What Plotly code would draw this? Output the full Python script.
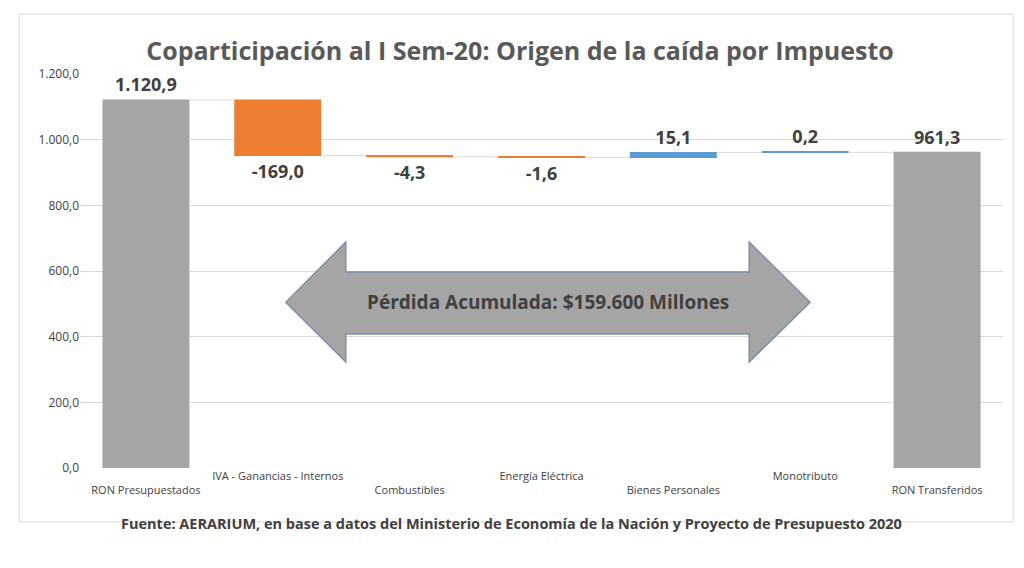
import plotly.graph_objs as go


# Waterfall
## Data
labels = ['RON Presupuestados', 'IVA - Ganancias - Internos', 'Combustibles', 'Energía Eléctrica',
          'Bienes Personales', 'Monotributo', 'RON Transferidos']
values = [1120.9, -169.0, -4.3, -1.6, 15.1, 0.2, 961.3]
measure = ['absolute', 'relative', 'relative', 'relative', 'relative', 'relative', 'total']
texts = ['<b>1.120,9</b>', '<b>-169,0</b>', '<b>-4,3</b>', '<b>-1,6</b>', '<b>15,1</b>', '<b>0,2</b>', '<b>961,3</b>']

## Staggered tick labels
ticks = [l if i % 2 else '<br>' + l for i, l in enumerate(labels)]

trace = go.Waterfall(x=labels, y=values, measure=measure, text=texts, textposition='outside',
                     textfont=dict(size=18, color='#404040', family='Open Sans'),
                     increasing=dict(marker=dict(color='#5b9bd5')),
                     decreasing=dict(marker=dict(color='#ed7d31')),
                     totals=dict(marker=dict(color='#a5a5a5')),
                     connector=dict(line=dict(color='#d9d9d9', width=1)),
                     cliponaxis=False)

fig = go.Figure(data=[trace])

fig.update_layout(width=1024, height=568, plot_bgcolor='white', paper_bgcolor='white',
                  margin=dict(l=72, r=29, t=66, b=108), showlegend=False, waterfallgap=0.34,
                  title=dict(text='<b>Coparticipación al I Sem-20: Origen de la caída por Impuesto</b>',
                             x=0.5, y=0.94, font=dict(size=25, color='#595959', family='Open Sans')),
                  font=dict(family='Open Sans', color='#404040'))

fig.update_xaxes(tickvals=labels, ticktext=ticks, tickfont=dict(size=11), ticks='', automargin=False)
fig.update_yaxes(range=[0, 1200], dtick=200, tickformat=',.1f', gridcolor='#d9d9d9',
                 zeroline=False, tickfont=dict(size=12), automargin=False)
fig.update_layout(separators=',.')

## Double arrow
fig.add_shape(type='path', xref='paper', yref='y', layer='above',
              path='M 0.223 505 L 0.288 688 L 0.288 597 L 0.725 597 L 0.725 688 L 0.791 505 '
                   'L 0.725 323 L 0.725 408 L 0.288 408 L 0.288 323 Z',
              fillcolor='#a5a5a5', line=dict(color='#7f8fa6', width=1.5))
fig.add_annotation(xref='paper', yref='y', x=0.507, y=505, showarrow=False,
                   text='<b>Pérdida Acumulada: $159.600 Millones</b>',
                   font=dict(size=19, color='#404040'))

## Border and footer
fig.add_shape(type='rect', xref='paper', yref='paper', x0=-0.066, x1=1.011, y0=-0.137, y1=1.152,
              line=dict(color='#d9d9d9', width=1))
fig.add_annotation(xref='paper', yref='paper', x=0.467, y=-0.17, showarrow=False,
                   text='<b>Fuente: AERARIUM, en base a datos del Ministerio de Economía de la Nación y Proyecto de Presupuesto 2020</b>',
                   font=dict(size=14.5, color='#404040'))

fig.write_html("out.html")
